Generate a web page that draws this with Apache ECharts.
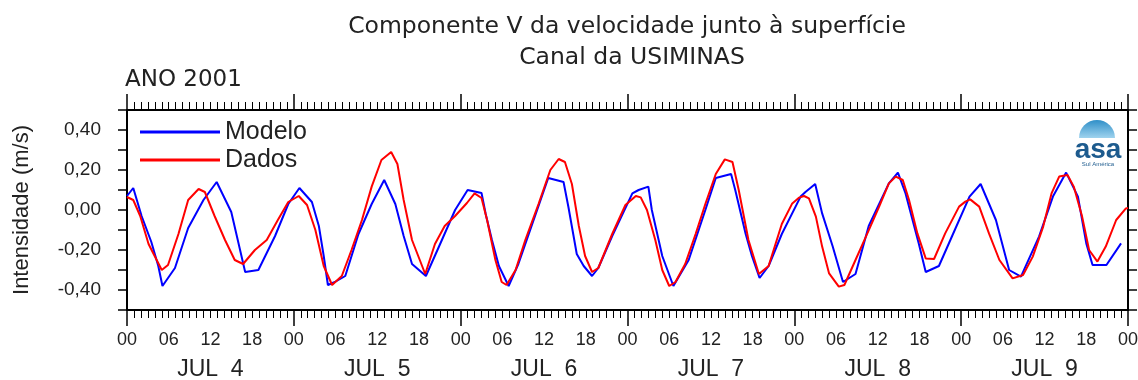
<!DOCTYPE html>
<html>
<head>
<meta charset="utf-8">
<title>Componente V da velocidade</title>
<script src="https://cdn.jsdelivr.net/npm/echarts@6/dist/echarts.min.js"></script>
<style>
	html, body { margin: 0; padding: 0; background: #fff; }
	#chart { width: 1138px; height: 380px; }
</style>
</head>
<body>
<div id="chart"></div>
<script>
// horas contadas a partir de JUL 4 00h
var modeloHoras = [0, 0.9, 2.1, 3.5, 4.5, 5.1, 6.9, 8.8, 11.0, 12.9, 15.0, 17.0, 18.9, 21.3, 23.2, 24.8,
	26.6, 27.6, 28.3, 28.9, 29.9, 31.4, 33.3, 35.2, 37.0, 38.6, 39.8, 41.0, 43.0, 45.3, 47.2,
	49.0, 51.0, 51.6, 52.5, 53.5, 54.9, 56.3, 60.6, 62.8, 63.5, 64.7, 65.7, 66.9, 67.8, 69.8,
	72.7, 73.6, 75.0, 75.5, 77.0, 78.6, 80.8, 83.2, 84.7, 86.9, 87.5, 89.0, 89.9, 91.0, 92.3, 94.2,
	96.9, 97.6, 99.0, 100.0, 101.5, 103.0, 104.8, 106.7, 109.6, 110.9, 112.0, 113.9, 114.9, 116.8, 118.7,
	121.2, 122.8, 125.0, 126.9, 128.6, 131.2, 133.2, 135.1, 136.8, 138.0, 138.9, 140.9, 143.0];
var modeloValores = [0.07, 0.11, -0.03, -0.16, -0.28, -0.38, -0.29, -0.09, 0.05, 0.14, -0.01, -0.31, -0.30, -0.13, 0.03, 0.11,
	0.04, -0.08, -0.23, -0.375, -0.36, -0.33, -0.12, 0.03, 0.15, 0.03, -0.13, -0.27, -0.33, -0.15, 0.0,
	0.10, 0.085, -0.02, -0.15, -0.28, -0.38, -0.27, 0.16, 0.14, 0.015, -0.22, -0.28, -0.33, -0.29, -0.13,
	0.083, 0.10, 0.117, 0.0, -0.23, -0.38, -0.25, 0.0, 0.16, 0.18, 0.10, -0.12, -0.23, -0.34, -0.28, -0.12,
	0.067, 0.09, 0.13, -0.017, -0.18, -0.36, -0.32, -0.08, 0.133, 0.187, 0.083, -0.167, -0.31, -0.28, -0.13,
	0.067, 0.13, -0.05, -0.30, -0.333, -0.133, 0.067, 0.187, 0.067, -0.167, -0.275, -0.275, -0.167];

var dadosHoras = [0, 0.9, 1.9, 3.1, 5.0, 5.9, 7.4, 8.8, 10.3, 11.2, 12.6, 14.1, 15.5, 16.7, 18.4, 20.1, 21.7, 23.2,
	24.7, 25.9, 27.1, 28.3, 29.5, 30.9, 32.3, 33.8, 35.2, 36.6, 38.0, 38.9, 39.8, 41.0, 42.9, 44.3, 45.7, 47.2,
	48.9, 50.0, 51.0, 51.8, 53.0, 53.9, 54.6, 55.9, 57.3, 59.2, 60.9, 62.1, 63.0, 64.0, 65.0, 65.9, 66.9, 67.8, 69.8,
	71.7, 73.2, 73.9, 74.8, 76.0, 77.0, 78.0, 78.9, 80.3, 81.8, 83.2, 84.7, 86.0, 87.1, 88.0, 89.4, 90.9, 92.3, 94.2,
	95.7, 96.7, 97.4, 98.1, 99.1, 100.0, 101.0, 102.4, 103.2, 104.8, 106.3, 108.2, 109.6, 110.6, 111.6, 112.5, 113.7, 114.9, 116.1, 117.7,
	119.7, 120.6, 121.3, 122.6, 124.0, 125.5, 127.4, 128.9, 130.3, 131.8, 133.0, 134.1, 135.3, 136.2, 137.4, 138.4, 139.6, 140.8, 142.3, 143.7, 144.0];
var dadosValores = [0.065, 0.05, -0.03, -0.17, -0.30, -0.275, -0.12, 0.05, 0.105, 0.09, -0.03, -0.15, -0.25, -0.27, -0.20, -0.15, -0.05, 0.04,
	0.07, 0.025, -0.10, -0.28, -0.375, -0.33, -0.20, -0.05, 0.117, 0.25, 0.29, 0.23, 0.05, -0.15, -0.32, -0.17, -0.08, -0.03,
	0.035, 0.083, 0.06, -0.05, -0.25, -0.36, -0.375, -0.30, -0.15, 0.03, 0.20, 0.255, 0.24, 0.13, -0.08, -0.23, -0.31, -0.29, -0.12,
	0.025, 0.07, 0.063, 0.0, -0.15, -0.30, -0.38, -0.36, -0.27, -0.12, 0.03, 0.18, 0.253, 0.24, 0.10, -0.15, -0.32, -0.28, -0.07,
	0.033, 0.062, 0.07, 0.058, -0.033, -0.183, -0.317, -0.383, -0.375, -0.25, -0.133, 0.017, 0.133, 0.167, 0.15, 0.05, -0.117, -0.242, -0.245, -0.117,
	0.017, 0.042, 0.053, 0.017, -0.117, -0.25, -0.342, -0.325, -0.233, -0.083, 0.083, 0.167, 0.175, 0.117, -0.033, -0.2, -0.258, -0.183, -0.05, 0.008, 0.01];

var horaLabels = ['00', '06', '12', '18'];
var diasLabels = ['JUL  4', 'JUL  5', 'JUL  6', 'JUL  7', 'JUL  8', 'JUL  9'];

var FONTE = "'Liberation Sans', Arial, sans-serif";
var FONTE_TITULO = "'DejaVu Sans', sans-serif";

function pares(horas, valores) {
	var out = [];
	for(var i = 0; i < horas.length; i++) {
		out.push([horas[i], valores[i]]);
	}
	return out;
}

var chart = echarts.init(document.getElementById('chart'));

var linhaEixo = { show: true, onZero: false, lineStyle: { color: '#000', width: 2 } };
var tickEixo = { show: true, length: 16, lineStyle: { color: '#000', width: 1.5 } };
var minorEixo = { show: true, splitNumber: 24, length: 8, lineStyle: { color: '#000', width: 1 } };

var option = {
	animation: false,
	backgroundColor: '#fff',
	textStyle: { fontFamily: FONTE },
	grid: { left: 127, right: 10, top: 110, bottom: 70, outerBoundsMode: 'none', containLabel: false },
	legend: {
		orient: 'vertical',
		left: 135,
		top: 114,
		icon: 'rect',
		itemWidth: 80,
		itemHeight: 3,
		itemGap: 2,
		data: ['Modelo', 'Dados'],
		textStyle: { fontSize: 25, color: '#222', fontFamily: FONTE, lineHeight: 26 }
	},
	graphic: [
		{ type: 'text', x: 627, y: 27, style: { text: 'Componente V da velocidade junto à superfície', font: '23.5px ' + FONTE_TITULO, fill: '#222', align: 'center', verticalAlign: 'middle' } },
		{ type: 'text', x: 632, y: 58, style: { text: 'Canal da USIMINAS', font: '23.5px ' + FONTE_TITULO, fill: '#222', align: 'center', verticalAlign: 'middle' } },
		{ type: 'text', x: 125, y: 80, style: { text: 'ANO 2001', font: '23px ' + FONTE_TITULO, fill: '#222', align: 'left', verticalAlign: 'middle' } },
		//logo asa
		{ type: 'sector', shape: { cx: 1097, cy: 138, r: 18, r0: 0, startAngle: Math.PI, endAngle: Math.PI * 2 },
			style: { fill: new echarts.graphic.LinearGradient(0, 0, 0, 1, [{ offset: 0, color: '#2f8fc8' }, { offset: 1, color: '#9fd3ee' }]) } },
		{ type: 'text', x: 1098, y: 150, style: { text: 'asa', font: 'bold 28px ' + FONTE, fill: '#1d5b8e', align: 'center', verticalAlign: 'middle' } },
		{ type: 'text', x: 1098, y: 164, style: { text: 'Sul América', font: '6px ' + FONTE, fill: '#1d5b8e', align: 'center', verticalAlign: 'middle' } }
	],
	xAxis: [{
		type: 'value', position: 'bottom', min: 0, max: 144, interval: 24,
		axisLine: linhaEixo, axisTick: tickEixo, minorTick: minorEixo,
		axisLabel: { show: false }, splitLine: { show: false }
	}, {
		type: 'value', position: 'bottom', min: 0, max: 144, interval: 6,
		axisLine: { show: false, onZero: false }, axisTick: { show: false }, splitLine: { show: false },
		axisLabel: {
			margin: 21, fontSize: 18, color: '#222', fontFamily: FONTE, showMinLabel: true, showMaxLabel: true,
			formatter: function(v) { return horaLabels[(Math.round(v) % 24) / 6]; }
		}
	}, {
		type: 'category', position: 'bottom', data: diasLabels, boundaryGap: true,
		axisLine: { show: false, onZero: false }, axisTick: { show: false }, splitLine: { show: false },
		axisLabel: { margin: 48, fontSize: 23, color: '#222', fontFamily: FONTE }
	}, {
		type: 'value', position: 'top', min: 0, max: 144, interval: 24,
		axisLine: linhaEixo, axisTick: tickEixo, minorTick: minorEixo,
		axisLabel: { show: false }, splitLine: { show: false }
	}],
	yAxis: [{
		type: 'value', position: 'left', min: -0.5, max: 0.5, interval: 0.1,
		name: 'Intensidade (m/s)', nameLocation: 'middle', nameGap: 94, nameRotate: 90,
		nameTextStyle: { fontSize: 22, color: '#222', fontFamily: FONTE },
		axisLine: linhaEixo,
		axisTick: { show: true, length: 9, lineStyle: { color: '#000', width: 1.5 } },
		splitLine: { show: false },
		axisLabel: {
			margin: 26, fontSize: 19, color: '#222', fontFamily: FONTE,
			formatter: function(v) {
				var k = Math.round(v * 10);
				if(k % 2 !== 0 || Math.abs(k) === 5) return '';
				return (k / 10).toFixed(2).replace('.', ',');
			}
		}
	}, {
		type: 'value', position: 'right', min: -0.5, max: 0.5, interval: 0.1,
		axisLine: linhaEixo,
		axisTick: { show: true, length: 9, lineStyle: { color: '#000', width: 1.5 } },
		splitLine: { show: false }, axisLabel: { show: false }
	}],
	series: [{
		name: 'Modelo', type: 'line', xAxisIndex: 0, yAxisIndex: 0,
		data: pares(modeloHoras, modeloValores),
		showSymbol: false, symbol: 'none', color: '#0000ff',
		lineStyle: { color: '#0000ff', width: 2 }
	}, {
		name: 'Dados', type: 'line', xAxisIndex: 0, yAxisIndex: 0,
		data: pares(dadosHoras, dadosValores),
		showSymbol: false, symbol: 'none', color: '#ff0000',
		lineStyle: { color: '#ff0000', width: 2 }
	}]
};
chart.setOption(option);
</script>
</body>
</html>
